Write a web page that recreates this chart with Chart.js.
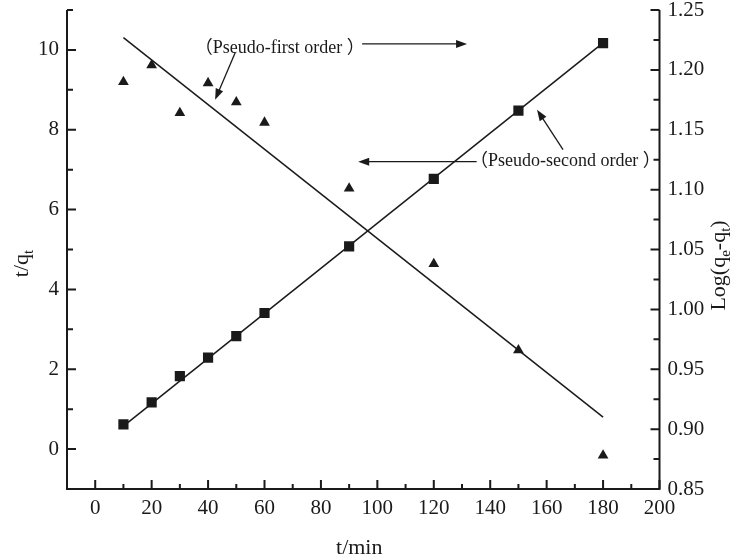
<!DOCTYPE html>
<html>
<head>
<meta charset="utf-8">
<script src="https://cdn.jsdelivr.net/npm/chart.js@4/dist/chart.umd.min.js"></script>
<style>
  html, body { margin: 0; padding: 0; background: #fff; }
  #wrap { width: 742px; height: 560px; }
</style>
</head>
<body>
<div id="wrap"><canvas id="chart"></canvas></div>
<script>
// sampling times (min)
const times = [10, 20, 30, 40, 50, 60, 90, 120, 150, 180];
// pseudo-second order, t/qt (left axis)
const tqValues = [0.62, 1.17, 1.83, 2.29, 2.83, 3.41, 5.08, 6.77, 8.48, 10.17];
// pseudo-first order, log(qe-qt) (right axis)
const logValues = [1.190, 1.204, 1.164, 1.189, 1.173, 1.156, 1.101, 1.038, 0.966, 0.878];

// fitted lines, end points
const fitX = [10, 180];
const secondFit = [0.575, 10.175];
const firstFit = [1.227, 0.910];

// axes
const xTicks = [0, 20, 40, 60, 80, 100, 120, 140, 160, 180, 200];
const xMinor = [10, 30, 50, 70, 90, 110, 130, 150, 170, 190];
const leftTicks = [0, 2, 4, 6, 8, 10];
const leftMinor = [1, 3, 5, 7, 9, 11];
const rightTicks = [0.85, 0.90, 0.95, 1.00, 1.05, 1.10, 1.15, 1.20, 1.25];
const rightMinor = [0.875, 0.925, 0.975, 1.025, 1.075, 1.125, 1.175, 1.225];

// annotations (x in min, y in left axis units)
const noteText = ['\uFF08Pseudo-first order \uFF09', '\uFF08Pseudo-second order \uFF09'];
const noteX = [35.3, 132.8];
const noteY = [10.05, 7.2];
const arrowFrom = [[94.6, 10.15], [49.6, 9.93], [135.2, 7.2], [165.8, 7.5]];
const arrowTo = [[131.8, 10.15], [42.5, 8.75], [93.2, 7.2], [156.6, 8.5]];

const ink = '#1a1a1a';
const serif = '"Liberation Serif", "Times New Roman", serif';

const fixTicks = list => scale => { scale.ticks = list.map(v => ({ value: v })); };

function drawArrow(ctx, x1, y1, x2, y2) {
    const ang = Math.atan2(y2 - y1, x2 - x1);
    const len = 11, half = 4;
    ctx.beginPath();
    ctx.moveTo(x1, y1);
    ctx.lineTo(x2 - Math.cos(ang) * len * 0.8, y2 - Math.sin(ang) * len * 0.8);
    ctx.stroke();
    ctx.beginPath();
    ctx.moveTo(x2, y2);
    ctx.lineTo(x2 - Math.cos(ang) * len - Math.sin(ang) * half, y2 - Math.sin(ang) * len + Math.cos(ang) * half);
    ctx.lineTo(x2 - Math.cos(ang) * len + Math.sin(ang) * half, y2 - Math.sin(ang) * len - Math.cos(ang) * half);
    ctx.closePath();
    ctx.fill();
}

// text with subscript parts, centered on (0,0)
function drawSubText(ctx, parts, size) {
    const subSize = Math.round(size * 0.68);
    let total = 0;
    parts.forEach(p => {
        ctx.font = (p.sub ? subSize : size) + 'px ' + serif;
        p.w = ctx.measureText(p.t).width;
        total += p.w;
    });
    let x = -total / 2;
    ctx.textAlign = 'left';
    ctx.textBaseline = 'middle';
    parts.forEach(p => {
        ctx.font = (p.sub ? subSize : size) + 'px ' + serif;
        ctx.fillText(p.t, x, p.sub ? size * 0.3 : 0);
        x += p.w;
    });
}

const framePlugin = {
    id: 'frame',
    afterDraw(chart) {
        const ctx = chart.ctx;
        const { left, right, top, bottom } = chart.chartArea;
        const sx = chart.scales.x, sy = chart.scales.y, sr = chart.scales.y1;
        ctx.save();
        ctx.strokeStyle = ink;
        ctx.fillStyle = ink;
        ctx.lineWidth = 2;
        ctx.lineCap = 'butt';

        // axis lines (no top line)
        ctx.beginPath();
        ctx.moveTo(left, top); ctx.lineTo(left, bottom); ctx.lineTo(right, bottom); ctx.lineTo(right, top);
        ctx.stroke();

        // inward ticks
        const major = 9, minor = 5;
        ctx.beginPath();
        xTicks.forEach(v => { const p = sx.getPixelForValue(v); ctx.moveTo(p, bottom); ctx.lineTo(p, bottom - major); });
        xMinor.forEach(v => { const p = sx.getPixelForValue(v); ctx.moveTo(p, bottom); ctx.lineTo(p, bottom - minor); });
        leftTicks.forEach(v => { const p = sy.getPixelForValue(v); ctx.moveTo(left, p); ctx.lineTo(left + major, p); });
        leftMinor.forEach(v => { const p = sy.getPixelForValue(v); ctx.moveTo(left, p); ctx.lineTo(left + minor + 1, p); });
        rightTicks.forEach(v => { const p = sr.getPixelForValue(v); ctx.moveTo(right, p); ctx.lineTo(right - major, p); });
        rightMinor.forEach(v => { const p = sr.getPixelForValue(v); ctx.moveTo(right, p); ctx.lineTo(right - minor - 1, p); });
        ctx.stroke();

        // axis titles
        ctx.save();
        ctx.translate(22, (top + bottom) / 2 + 14);
        ctx.rotate(-Math.PI / 2);
        drawSubText(ctx, [{ t: 't/q' }, { t: 't', sub: true }], 22);
        ctx.restore();

        ctx.save();
        ctx.translate(719, (top + bottom) / 2 + 16);
        ctx.rotate(-Math.PI / 2);
        drawSubText(ctx, [{ t: 'Log(q' }, { t: 'e', sub: true }, { t: '-q' }, { t: 't', sub: true }, { t: ')' }], 22);
        ctx.restore();

        ctx.save();
        ctx.translate((left + right) / 2 - 4, 548);
        drawSubText(ctx, [{ t: 't/min' }], 22);
        ctx.restore();

        // annotations
        ctx.font = '18px ' + serif + ', "Noto Sans CJK SC"';
        ctx.textAlign = 'left';
        ctx.textBaseline = 'middle';
        noteText.forEach((t, i) => {
            ctx.fillText(t, sx.getPixelForValue(noteX[i]), sy.getPixelForValue(noteY[i]));
        });
        ctx.lineWidth = 1.3;
        arrowFrom.forEach((a, i) => {
            const b = arrowTo[i];
            drawArrow(ctx, sx.getPixelForValue(a[0]), sy.getPixelForValue(a[1]),
                sx.getPixelForValue(b[0]), sy.getPixelForValue(b[1]));
        });
        ctx.restore();
    }
};

const tickFont = { family: serif, size: 21 };

new Chart(document.getElementById('chart'), {
    type: 'scatter',
    data: {
        datasets: [
            {
                label: 't/qt',
                data: times.map((t, i) => ({ x: t, y: tqValues[i] })),
                yAxisID: 'y',
                pointStyle: 'rect',
                pointRadius: 7.2,
                backgroundColor: ink,
                borderColor: ink,
                borderWidth: 0
            },
            {
                label: 'Log(qe-qt)',
                data: times.map((t, i) => ({ x: t, y: logValues[i] })),
                yAxisID: 'y1',
                pointStyle: 'triangle',
                pointRadius: 6.2,
                backgroundColor: ink,
                borderColor: ink,
                borderWidth: 0
            },
            {
                label: 'second order fit',
                data: fitX.map((t, i) => ({ x: t, y: secondFit[i] })),
                yAxisID: 'y',
                showLine: true,
                pointRadius: 0,
                borderColor: ink,
                borderWidth: 1.5
            },
            {
                label: 'first order fit',
                data: fitX.map((t, i) => ({ x: t, y: firstFit[i] })),
                yAxisID: 'y1',
                showLine: true,
                pointRadius: 0,
                borderColor: ink,
                borderWidth: 1.5
            }
        ]
    },
    options: {
        responsive: true,
        maintainAspectRatio: false,
        animation: false,
        layout: { padding: { top: 10, left: 0, right: 0, bottom: 0 } },
        plugins: { legend: { display: false }, tooltip: { enabled: false } },
        scales: {
            x: {
                type: 'linear', min: -10, max: 200,
                grid: { display: false, drawTicks: false },
                border: { display: false },
                ticks: { font: tickFont, color: ink, padding: 7, maxRotation: 0, autoSkip: false },
                afterBuildTicks: fixTicks(xTicks),
                afterFit: s => { s.height = 71; s.paddingLeft = 0; s.paddingRight = 0; }
            },
            y: {
                type: 'linear', position: 'left', min: -1, max: 11,
                grid: { display: false, drawTicks: false },
                border: { display: false },
                ticks: { font: tickFont, color: ink, padding: 8 },
                afterBuildTicks: fixTicks(leftTicks),
                afterFit: s => { s.width = 67; s.paddingTop = 0; s.paddingBottom = 0; }
            },
            y1: {
                type: 'linear', position: 'right', min: 0.85, max: 1.25,
                grid: { display: false, drawTicks: false },
                border: { display: false },
                ticks: { font: tickFont, color: ink, padding: 8, callback: v => v.toFixed(2) },
                afterBuildTicks: fixTicks(rightTicks),
                afterFit: s => { s.width = 82.5; s.paddingTop = 0; s.paddingBottom = 0; }
            }
        }
    },
    plugins: [framePlugin]
});
</script>
</body>
</html>
